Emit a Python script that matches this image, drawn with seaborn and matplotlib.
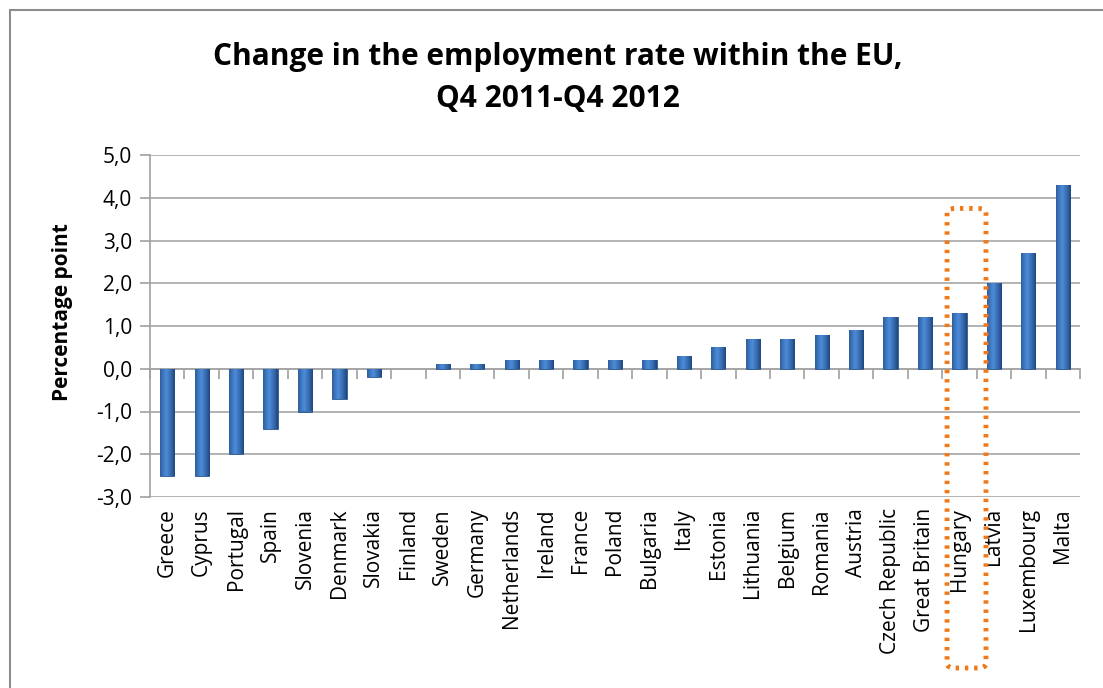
import matplotlib
matplotlib.use("Agg")
import matplotlib.pyplot as plt
import seaborn as sns
import numpy as np
import pandas as pd
from matplotlib.patches import FancyBboxPatch, Rectangle
from matplotlib.ticker import FuncFormatter, FixedLocator

countries = ["Greece", "Cyprus", "Portugal", "Spain", "Slovenia", "Denmark", "Slovakia",
             "Finland", "Sweden", "Germany", "Netherlands", "Ireland", "France", "Poland",
             "Bulgaria", "Italy", "Estonia", "Lithuania", "Belgium", "Romania", "Austria",
             "Czech Republic", "Great Britain", "Hungary", "Latvia", "Luxembourg", "Malta"]
changes = [-2.5, -2.5, -2.0, -1.4, -1.0, -0.7, -0.2,
           0.0, 0.1, 0.1, 0.2, 0.2, 0.2, 0.2,
           0.2, 0.3, 0.5, 0.7, 0.7, 0.8, 0.9,
           1.2, 1.2, 1.3, 2.0, 2.7, 4.3]
y_ticks = [-3, -2, -1, 0, 1, 2, 3, 4, 5]
highlight = "Hungary"
title = "Change in the employment rate within the EU,\nQ4 2011-Q4 2012"
ylabel = "Percentage point"

df = pd.DataFrame({"country": countries, "change": changes})

sns.set_theme(style="white")
plt.rcParams["font.family"] = ["Open Sans", "DejaVu Sans"]
plt.rcParams["text.color"] = "black"
plt.rcParams["axes.labelcolor"] = "black"

fig = plt.figure(figsize=(11.03, 6.88), dpi=100)
ax = fig.add_axes([150 / 1103, 1 - 497 / 688, 930 / 1103, 342 / 688])

sns.barplot(data=df, x="country", y="change", color="#3a6fb3", width=0.41,
            ax=ax, saturation=1, edgecolor="#2b5a93", linewidth=0.6, zorder=3)

# gradient shading for the bars
grad = np.linspace(0, 1, 64)
prof = 1 - np.abs(grad - 0.42) * 1.9
prof = np.clip(prof, 0, 1) ** 0.8
dark = np.array([0.13, 0.29, 0.52])
light = np.array([0.30, 0.55, 0.85])
img = dark[None, :] + (light - dark)[None, :] * prof[:, None]
img = img[None, :, :]
for p in ax.patches:
    x0, y0 = p.get_x(), p.get_y()
    w, h = p.get_width(), p.get_height()
    if abs(h) < 1e-9:
        p.set_edgecolor("none")
        continue
    im = ax.imshow(img, extent=[x0, x0 + w, min(y0, y0 + h), max(y0, y0 + h)],
                   aspect="auto", zorder=4, interpolation="bilinear")
    im.set_clip_path(p)

ax.set_ylim(-3, 5)
ax.set_xlim(-0.5, len(countries) - 0.5)
ax.yaxis.set_major_locator(FixedLocator(y_ticks))
ax.yaxis.set_major_formatter(FuncFormatter(lambda v, pos: f"{v:.1f}".replace(".", ",")))
ax.grid(axis="y", color="#a6a6a6", linewidth=1.2, zorder=0)
ax.set_axisbelow(True)
for s in ["top", "right", "bottom"]:
    ax.spines[s].set_visible(False)
ax.spines["left"].set_color("#a0a0a0")
ax.spines["left"].set_linewidth(1.2)
ax.tick_params(axis="y", which="major", direction="out", length=7, width=1.2,
               color="#a0a0a0", labelsize=15, labelcolor="black", pad=6, left=True)
ax.tick_params(axis="x", which="major", length=0, labelsize=15, labelcolor="black", pad=8)
for lbl in ax.get_xticklabels():
    lbl.set_rotation(90)
ax.set_xlabel("")
ax.set_ylabel(ylabel, fontsize=15, fontweight="bold")
ax.yaxis.set_label_coords(-0.083, 0.54)

# zero axis with category boundary ticks
sec = ax.secondary_xaxis(3 / 8)
sec.set_xticks(np.arange(len(countries) + 1) - 0.5)
sec.set_xticklabels([])
sec.tick_params(direction="out", length=7, width=1.2, color="#a0a0a0")
sec.spines["bottom"].set_color("#a0a0a0")
sec.spines["bottom"].set_linewidth(1.2)
for s in ["top", "left", "right"]:
    sec.spines[s].set_visible(False)

# highlight box around Hungary
hi = countries.index(highlight)
box = FancyBboxPatch((hi - 0.36, -7.0), 1.13, 10.75,
                     boxstyle="round,pad=0,rounding_size=0.25",
                     mutation_aspect=1 / 2.5,
                     fill=False, edgecolor="#f07818", linewidth=3.5,
                     linestyle=(0, (0.7, 1.2)), clip_on=False, zorder=6)
ax.add_patch(box)

fig.text(558 / 1103, 1 - 78 / 688, title, ha="center", va="center",
         fontsize=21.5, fontweight="bold", linespacing=1.5, color="black")

# outer chart frame
fig.patches.append(Rectangle((10 / 1103, -0.1), 1.2, 1 - 10 / 688 + 0.1,
                             transform=fig.transFigure, fill=False,
                             edgecolor="#8c8c8c", linewidth=1.5))

fig.savefig("out.png", dpi=100)
